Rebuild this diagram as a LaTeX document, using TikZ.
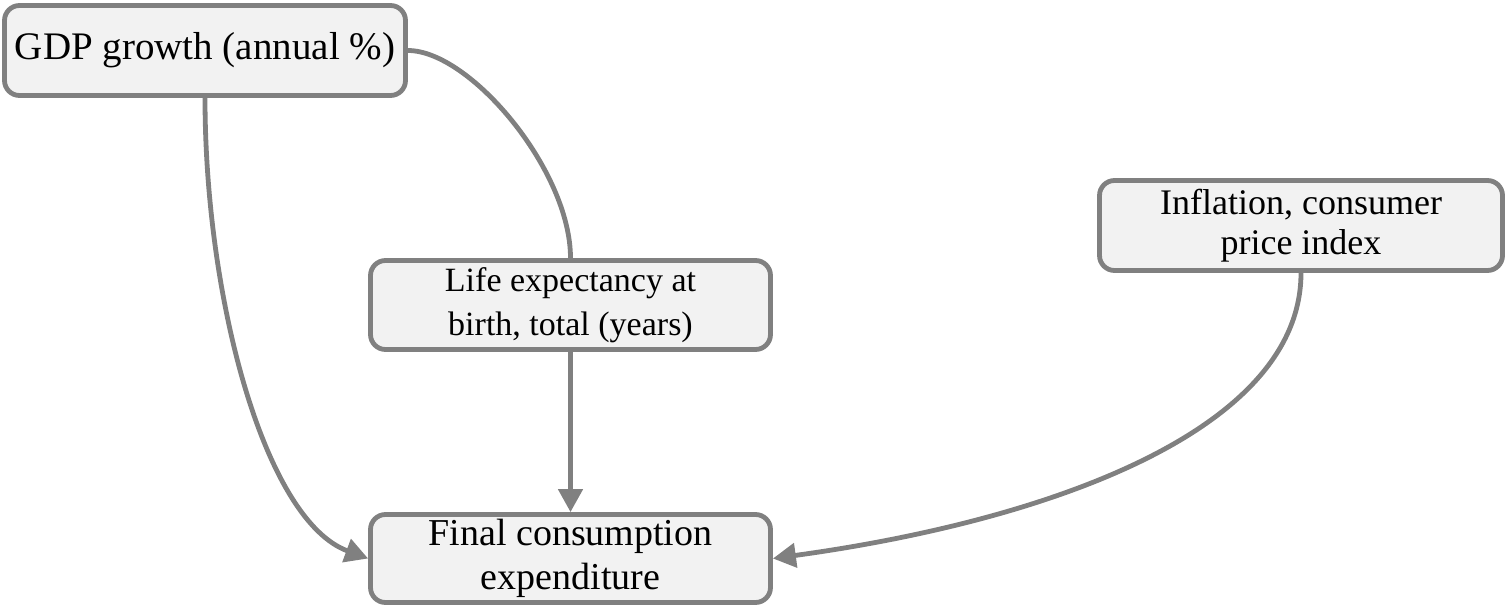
\documentclass[tikz,border=0pt]{standalone}
\usepackage{fontspec}
\setmainfont{Liberation Serif}
\usetikzlibrary{arrows.meta}
\definecolor{edgegray}{HTML}{808080}
\definecolor{boxfill}{HTML}{F2F2F2}
\tikzset{
  box/.style={draw=edgegray, fill=boxfill, line width=2.4pt, rounded corners=7.5pt,
    inner sep=0pt, align=center, text=black},
  conn/.style={draw=edgegray, line width=2.4pt},
  arr/.style={conn, -{Triangle[length=11.5pt,width=12pt]}}
}
\begin{document}
\begin{tikzpicture}[x=0.5pt,y=-0.5pt]
\useasboundingbox (0,0) rectangle (1509,609);
\node[box, minimum width=200.5pt, minimum height=45pt,
  font=\fontsize{19.5pt}{23pt}\selectfont] (gdp) at (205,50.5) {GDP growth (annual \%)};
\node[box, minimum width=200pt, minimum height=44.5pt,
  font=\fontsize{17pt}{22pt}\selectfont] (life) at (570.5,305) {Life expectancy at\\birth, total (years)};
\node[box, minimum width=201.5pt, minimum height=45pt,
  font=\fontsize{18pt}{20pt}\selectfont] (infl) at (1301,225.5) {Inflation, consumer\\price index};
\node[box, minimum width=200pt, minimum height=44pt,
  font=\fontsize{19pt}{22.2pt}\selectfont] (final) at (570.5,558.5) {Final consumption\\expenditure};
\draw[arr] (gdp.south) .. controls +(0,202) and +(-103,-38) .. (final.west);
\draw[conn] (gdp.east) .. controls +(62,0) and +(0,-88) .. (life.north);
\draw[arr] (life.south) -- (final.north);
\draw[arr] (infl.south) .. controls +(0,157) and +(277,-38) .. (final.east);
\end{tikzpicture}
\end{document}
